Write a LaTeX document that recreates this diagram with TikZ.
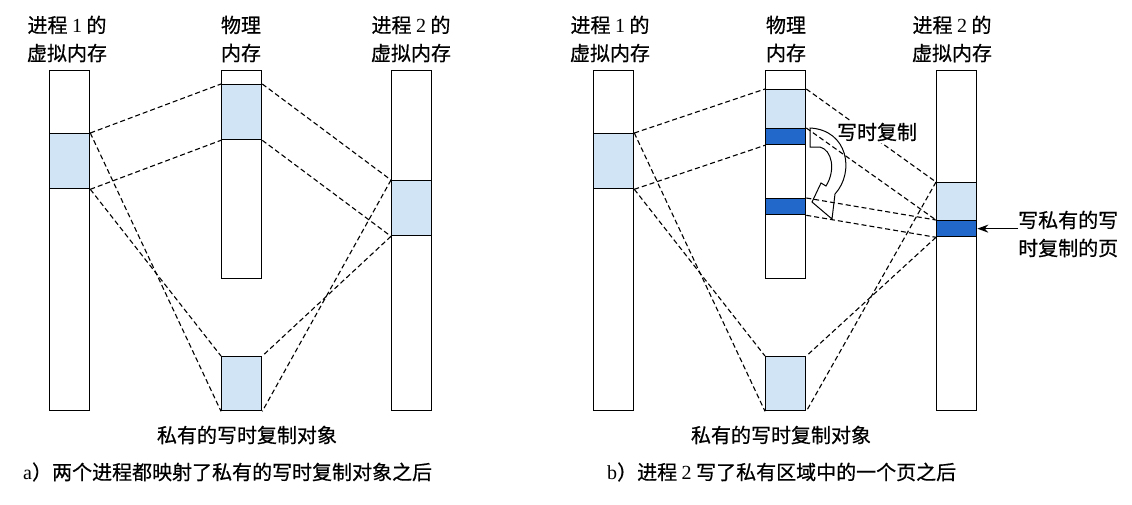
\documentclass[tikz,border=0pt]{standalone}
\usepackage{fontspec}
\setmainfont{Liberation Serif}
\newfontfamily\hei[FakeBold=0.6]{Noto Sans CJK SC}
\usepackage{xcolor}
\usepackage{tikz}
\usetikzlibrary{arrows.meta, positioning}
\definecolor{pagelight}{RGB}{208,228,246}
\definecolor{pagedark}{RGB}{34,104,202}

\begin{document}
\begin{tikzpicture}[x=1pt, y=-1pt, font=\hei\fontsize{20}{28}\selectfont]
\tikzstyle{membar} = [rectangle, draw=black, line width=1.3pt, fill=white, minimum width=40pt, inner sep=0pt, anchor=north west]
\tikzstyle{page} = [membar, fill=pagelight]
\tikzstyle{dirty} = [membar, fill=pagedark]
\tikzstyle{map} = [line width=1.1pt, dash pattern=on 5pt off 3pt]
\tikzstyle{title} = [align=center, inner sep=0pt]
\tikzstyle{arrow} = [line width=1.4pt, -{Stealth[length=11pt, width=8pt]}]

\useasboundingbox (0,0) rectangle (1132,504);

\node (proc1a) [membar, minimum height=340pt] at (49,70) {};
\node (pg1a) [page, minimum height=55pt] at (49,133) {};
\node (physa) [membar, minimum height=208pt] at (221,70) {};
\node (pgma) [page, minimum height=55pt] at (221,84) {};
\node (proc2a) [membar, minimum height=340pt] at (391,70) {};
\node (pg2a) [page, minimum height=55pt] at (391,180) {};
\node (obja) [page, minimum height=54pt] at (221,356) {};

\node (t1a) [title] at (67,39) {进程 \textrm{1} 的\\虚拟内存};
\node (tma) [title] at (241,39) {物理\\内存};
\node (t2a) [title] at (411,39) {进程 \textrm{2} 的\\虚拟内存};
\node (toa) [title] at (247,435) {私有的写时复制对象};
\node (capa) [title, anchor=west] at (23,472) {\textrm{a}）两个进程都映射了私有的写时复制对象之后};

\draw [map] (pg1a.north east) -- (pgma.north west);
\draw [map] (pg1a.south east) -- (pgma.south west);
\draw [map] (pgma.north east) -- (pg2a.north west);
\draw [map] (pgma.south east) -- (pg2a.south west);
\draw [map] (pg1a.north east) -- (obja.south west);
\draw [map] (pg1a.south east) -- (obja.north west);
\draw [map] (pg2a.north west) -- (obja.south east);
\draw [map] (pg2a.south west) -- (obja.north east);

\node (proc1b) [membar, minimum height=340pt] at (593,70) {};
\node (pg1b) [page, minimum height=55pt] at (593,133) {};
\node (physb) [membar, minimum height=208pt] at (765,70) {};
\node (pgmb) [page, minimum height=39pt] at (765,89) {};
\node (oldmb) [dirty, minimum height=16pt] at (765,128) {};
\node (newmb) [dirty, minimum height=16pt] at (765,198) {};
\node (proc2b) [membar, minimum height=340pt] at (936,70) {};
\node (pg2b) [page, minimum height=38pt] at (936,182) {};
\node (dirty2b) [dirty, minimum height=16pt] at (936,220) {};
\node (objb) [page, minimum height=54pt] at (765,356) {};

\node (t1b) [title] at (610,39) {进程 \textrm{1} 的\\虚拟内存};
\node (tmb) [title] at (786,39) {物理\\内存};
\node (t2b) [title] at (952,39) {进程 \textrm{2} 的\\虚拟内存};
\node (tob) [title] at (781,435) {私有的写时复制对象};
\node (capb) [title, anchor=west] at (607,472) {\textrm{b}）进程 \textrm{2} 写了私有区域中的一个页之后};

\draw [map] (pg1b.north east) -- (pgmb.north west);
\draw [map] (pg1b.south east) -- (oldmb.south west);
\draw [map] (pgmb.north east) -- (pg2b.north west);
\draw [map] (oldmb.north east) -- (dirty2b.north west);
\draw [map] (newmb.north east) -- (dirty2b.north west);
\draw [map] (newmb.south east) -- (dirty2b.south west);
\draw [map] (pg1b.north east) -- (objb.south west);
\draw [map] (pg1b.south east) -- (objb.north west);
\draw [map] (pg2b.north west) -- (objb.south east);
\draw [map] (dirty2b.south west) -- (objb.north east);

\node (cow) [fill=white, inner sep=2pt] at (877,132) {写时复制};
\draw [line width=1pt] (810,128) .. controls (848,130) and (855,172) .. (835,194) -- (832,219) -- (812,202) -- (821,183) -- (826,186) .. controls (836,170) and (832,150) .. (820,147) -- (810,147) -- cycle;

\node (wlabel) [title, align=left, anchor=west] at (1018,234) {写私有的写\\时复制的页};
\draw [arrow] (dirty2b.east -| wlabel.west) -- (dirty2b.east);
\end{tikzpicture}
\end{document}
